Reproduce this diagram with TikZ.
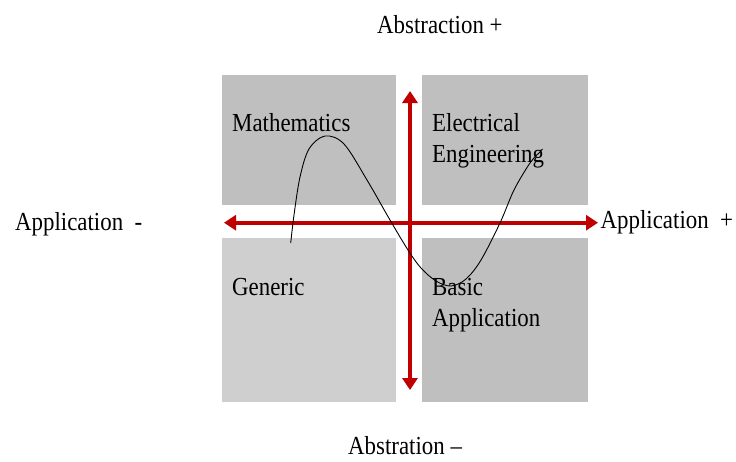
\documentclass[tikz,border=0pt]{standalone}
\usepackage{fontspec}
\setmainfont[FakeStretch=0.88]{Liberation Serif}
\usetikzlibrary{arrows.meta}
\definecolor{boxgray}{HTML}{BFBFBF}
\definecolor{lightgray}{HTML}{D0CFD0}
\definecolor{axisred}{HTML}{C00000}
\tikzset{
  quad/.style={anchor=north west, inner sep=0pt, minimum width=174.5pt, minimum height=130pt, draw=none},
  lbl/.style={anchor=base west, inner sep=0pt, font=\fontsize{26}{31}\selectfont},
  axis/.style={draw=axisred, line width=3.6pt, {Triangle[length=12pt,width=15pt]}-{Triangle[length=12pt,width=15pt]}},
  wave/.style={draw=black, line width=0.9pt}
}
\begin{document}
\begin{tikzpicture}[x=1pt,y=-1pt]
\useasboundingbox[fill=white] (0,0) rectangle (736,461);
% quadrants
\node[quad, fill=boxgray] (tl) at (221.5,75) {};
\node[quad, fill=boxgray, minimum width=166pt] (tr) at (422,75) {};
\node[quad, fill=lightgray, minimum height=164pt] (bl) at (221.5,238) {};
\node[quad, fill=boxgray, minimum width=166pt, minimum height=164pt] (br) at (422,238) {};
% axes
\coordinate (hl) at (224,222.7);
\coordinate (hr) at (598,222.7);
\coordinate (vt) at (410,91);
\coordinate (vb) at (410,390);
\draw[axis] (hl) -- (hr);
\draw[axis] (vt) -- (vb);
% quadrant labels
\node[lbl] (math) at (232,131) {Mathematics};
\node[lbl] (elec) at (432,131.5) {Electrical};
\node[lbl] (eng) at (432,162) {Engineering};
\node[lbl] (gen) at (232,295) {Generic};
\node[lbl] (bas) at (432,295) {Basic};
\node[lbl] (app) at (432,326.5) {Application};
% axis labels
\node[lbl] (top) at (377,33) {Abstraction +};
\node[lbl] (bot) at (348,454) {Abstration –};
\node[lbl] (left) at (15,230) {Application\ \ -};
\node[lbl] (right) at (600.5,228.5) {Application\ \ +};
% curve
\draw[wave] plot[smooth, tension=0.55] coordinates {
 (290.7,243) (294,215) (300,177) (309,149) (325,136) (344,144) (367,180)
 (390,220) (408,250) (421,268) (436,281) (451,286) (466,279) (481,260)
 (500,223) (514,190) (530,163) (540,152)};
\end{tikzpicture}
\end{document}
